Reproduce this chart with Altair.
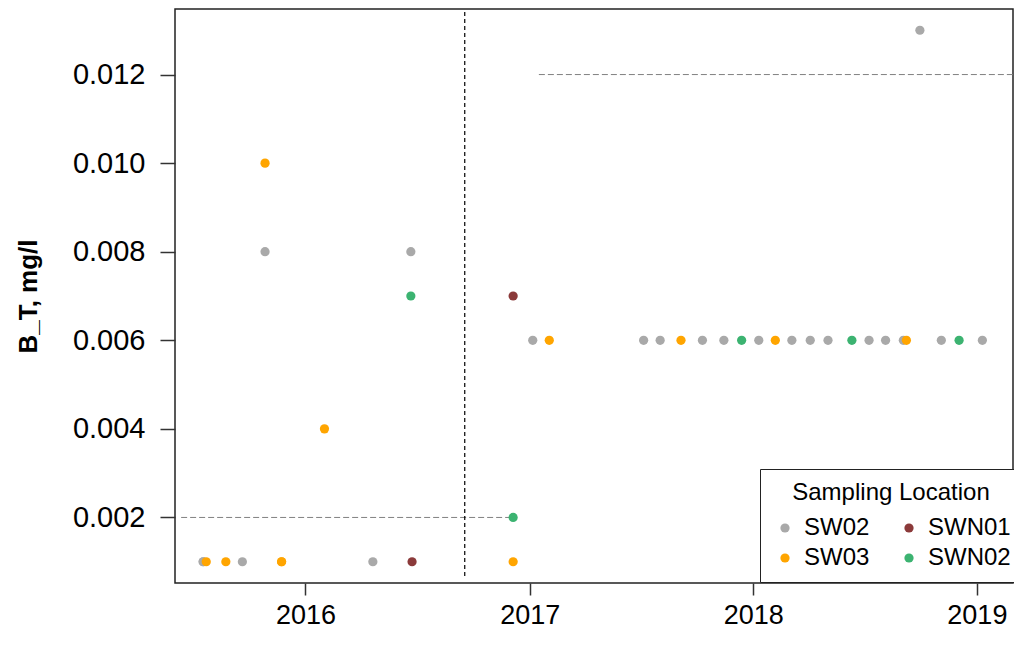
import altair as alt
import pandas as pd

FONT = "Liberation Sans, Arial, sans-serif"

# Sampling points
locations = ["SW02", "SW02", "SW03", "SW03", "SW03", "SW02", "SW03", "SW02", "SWN01", "SW03",
             "SWN02", "SW03", "SW03", "SW02", "SW02", "SWN02", "SWN01",
             "SW02", "SW03", "SW02", "SW02", "SW03", "SW02", "SW02", "SWN02", "SW02", "SW03",
             "SW02", "SW02", "SW02", "SWN02", "SW02", "SW02", "SW02", "SW03", "SW02", "SWN02",
             "SW02", "SW02"]
dates = ["2015-07-18", "2015-07-18", "2015-07-23", "2015-08-24", "2015-11-23", "2015-09-20", "2015-11-23",
         "2016-04-20", "2016-06-23", "2016-12-05",
         "2016-12-05", "2016-02-01", "2015-10-27", "2015-10-27", "2016-06-21", "2016-06-21", "2016-12-05",
         "2017-01-06", "2017-02-02", "2017-07-06", "2017-08-02", "2017-09-05", "2017-10-10", "2017-11-14",
         "2017-12-13", "2018-01-10", "2018-02-06",
         "2018-03-05", "2018-04-04", "2018-05-03", "2018-06-11", "2018-07-09", "2018-08-05", "2018-09-03",
         "2018-09-08", "2018-11-04", "2018-12-03",
         "2019-01-10", "2018-09-30"]
values = [0.001, 0.001, 0.001, 0.001, 0.001, 0.001, 0.001, 0.001, 0.001, 0.001,
          0.002, 0.004, 0.010, 0.008, 0.008, 0.007, 0.007,
          0.006, 0.006, 0.006, 0.006, 0.006, 0.006, 0.006, 0.006, 0.006, 0.006,
          0.006, 0.006, 0.006, 0.006, 0.006, 0.006, 0.006, 0.006, 0.006, 0.006,
          0.006, 0.013]

legend_order = ["SW02", "SW03", "SWN01", "SWN02"]
legend_colors = ["#A9A9A9", "#FFA500", "#8B3A3A", "#3CB371"]

# reference lines
vline_date = ["2016-09-17"]
hline_starts = ["2015-06-12", "2017-01-16"]
hline_ends = ["2016-11-30", "2019-03-01"]
hline_values = [0.002, 0.012]

x_domain = ["2015-06-02", "2019-03-01"]
y_domain = [0.00052, 0.01348]
year_ticks = ["2016-01-01", "2017-01-01", "2018-01-01", "2019-01-01"]
y_ticks = [0.002, 0.004, 0.006, 0.008, 0.010, 0.012]

pts = pd.DataFrame({"date": dates, "value": values, "loc": locations})
vdf = pd.DataFrame({"date": vline_date, "y1": [0.00068], "y2": [y_domain[1]]})
hdf = pd.DataFrame({"start": hline_starts, "end": hline_ends, "value": hline_values})

x_scale = alt.Scale(domain=x_domain, nice=False)
y_scale = alt.Scale(domain=y_domain, nice=False, zero=False)

x_enc = alt.X("date:T", scale=x_scale,
              axis=alt.Axis(title=None, values=year_ticks, format="%Y", domain=False, grid=False,
                            tickSize=12, tickWidth=1.5, tickColor="#333333", labelFontSize=27,
                            labelPadding=7, labelColor="#000000", labelFont=FONT))
y_enc = alt.Y("value:Q", scale=y_scale,
              axis=alt.Axis(title="B_T, mg/l", values=y_ticks, format=".3f", domain=False, grid=False,
                            tickSize=15, tickWidth=1.5, tickColor="#333333", labelFontSize=29,
                            labelPadding=15, labelColor="#000000", labelFont=FONT,
                            titleFont=FONT, titleFontSize=26, titleFontWeight="bold",
                            titleColor="#000000", titleX=-147, titleBaseline="middle"))

hlines = alt.Chart(hdf).mark_rule(color="#808080", strokeWidth=1, strokeDash=[6, 3]).encode(
    x=alt.X("start:T", scale=x_scale), x2="end:T",
    y=alt.Y("value:Q", scale=y_scale))

vline = alt.Chart(vdf).mark_rule(color="#000000", strokeWidth=1.2, strokeDash=[4, 3]).encode(
    x=alt.X("date:T", scale=x_scale),
    y=alt.Y("y1:Q", scale=y_scale), y2="y2:Q")

points = alt.Chart(pts).mark_circle(size=85, opacity=1).encode(
    x=x_enc, y=y_enc,
    color=alt.Color("loc:N", scale=alt.Scale(domain=legend_order, range=legend_colors),
                    legend=alt.Legend(title="Sampling Location", orient="none", legendX=585, legendY=460,
                                      columns=2, direction="vertical", strokeColor="#222222",
                                      fillColor="#FFFFFF", padding=12, symbolOffset=1,
                                      symbolType="circle", symbolSize=85, symbolStrokeWidth=0,
                                      labelFontSize=24, labelFont=FONT, labelColor="#000000",
                                      labelOffset=7, columnPadding=26, rowPadding=6,
                                      labelLimit=300, titleLimit=400,
                                      titleFontSize=24, titleFont=FONT, titleFontWeight="normal",
                                      titleColor="#000000", titleAnchor="middle", titlePadding=11)))

chart = alt.layer(hlines, vline, points).properties(
    width=838, height=574,
    autosize=alt.AutoSizeParams(type="none"),
    padding={"left": 167, "top": 1, "right": 1, "bottom": 47},
    background="#FFFFFF",
).configure_view(stroke="#222222", strokeWidth=1.5)

chart.save("out.html", embed_options={"renderer": "svg", "actions": False})
